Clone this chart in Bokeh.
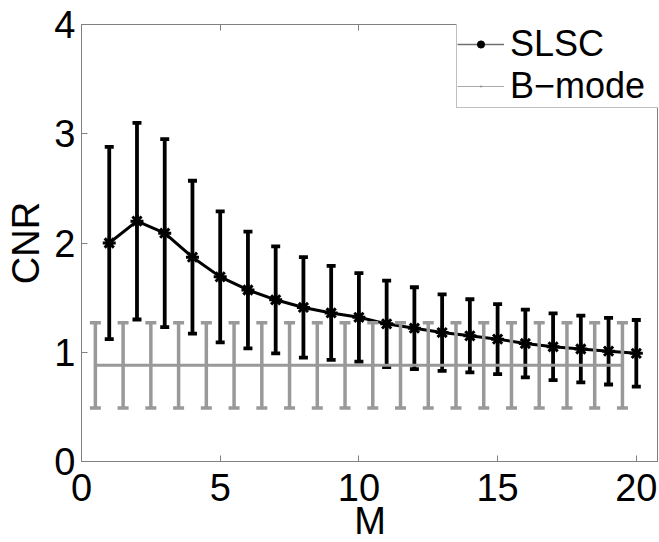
import math
from bokeh.plotting import figure
from bokeh.models import (ColumnDataSource, Range1d, LinearAxis, FixedTicker, Legend,
                          LegendItem, CustomJSTickFormatter)
from bokeh.embed import file_html
from bokeh.resources import INLINE

# ---- data ----
m_values = [1, 2, 3, 4, 5, 6, 7, 8, 9, 10, 11, 12, 13, 14, 15, 16, 17, 18, 19, 20]
slsc_mean = [2.00, 2.20, 2.09, 1.87, 1.69, 1.57, 1.48, 1.41, 1.36, 1.32,
             1.26, 1.22, 1.18, 1.15, 1.12, 1.08, 1.05, 1.03, 1.01, 0.99]
slsc_err = [0.88, 0.90, 0.86, 0.70, 0.60, 0.535, 0.49, 0.46, 0.43, 0.405,
            0.395, 0.375, 0.35, 0.335, 0.32, 0.31, 0.305, 0.305, 0.305, 0.305]

bmode_x = [0.5, 1.5, 2.5, 3.5, 4.5, 5.5, 6.5, 7.5, 8.5, 9.5,
           10.5, 11.5, 12.5, 13.5, 14.5, 15.5, 16.5, 17.5, 18.5, 19.5]
bmode_mean = [0.88, 0.88, 0.88, 0.88, 0.88, 0.88, 0.88, 0.88, 0.88, 0.88,
              0.88, 0.88, 0.88, 0.88, 0.88, 0.88, 0.88, 0.88, 0.88, 0.88]
bmode_err = [0.39, 0.39, 0.39, 0.39, 0.39, 0.39, 0.39, 0.39, 0.39, 0.39,
             0.39, 0.39, 0.39, 0.39, 0.39, 0.39, 0.39, 0.39, 0.39, 0.39]

x_ticks = [0, 5, 10, 15, 20]
y_ticks = [0, 1, 2, 3, 4]

FONT = "Liberation Sans"
FS = "38px"
LEGEND_FS = "36px"
AXIS_GRAY = "#808080"
BMODE_GRAY = "#999999"

slsc = ColumnDataSource(dict(
    x=m_values, y=slsc_mean,
    lo=[m - e for m, e in zip(slsc_mean, slsc_err)],
    hi=[m + e for m, e in zip(slsc_mean, slsc_err)],
))
bmode = ColumnDataSource(dict(
    x=bmode_x, y=bmode_mean,
    lo=[m - e for m, e in zip(bmode_mean, bmode_err)],
    hi=[m + e for m, e in zip(bmode_mean, bmode_err)],
))

p = figure(frame_width=577, frame_height=437,
           x_range=Range1d(0, 20.8), y_range=Range1d(0, 4),
           output_backend="svg", toolbar_location=None,
           min_border_left=81, min_border_top=24, min_border_right=0,
           min_border_bottom=10, background_fill_color="white",
           border_fill_color="white")
p.xgrid.visible = False
p.ygrid.visible = False
p.outline_line_color = AXIS_GRAY
p.outline_line_width = 1

# SLSC (drawn first, below B-mode)
p.segment(x0="x", y0="lo", x1="x", y1="hi", source=slsc, line_color="black", line_width=3.8)
p.scatter(x="x", y="hi", source=slsc, marker="dash", size=9, line_color="black", line_width=3.8)
p.scatter(x="x", y="lo", source=slsc, marker="dash", size=9, line_color="black", line_width=3.8)
p.line(x="x", y="y", source=slsc, line_color="black", line_width=3)
p.scatter(x="x", y="y", source=slsc, marker="asterisk", size=13, line_color="black", line_width=3)

# B-mode
p.segment(x0="x", y0="lo", x1="x", y1="hi", source=bmode, line_color=BMODE_GRAY, line_width=3.5)
p.scatter(x="x", y="hi", source=bmode, marker="dash", size=11, line_color=BMODE_GRAY, line_width=3.5)
p.scatter(x="x", y="lo", source=bmode, marker="dash", size=11, line_color=BMODE_GRAY, line_width=3.5)
p.line(x="x", y="y", source=bmode, line_color=BMODE_GRAY, line_width=3)

# legend proxies (not visible in the plot area)
nan = float("nan")
lg1 = p.line(x=[nan], y=[nan], line_color="#707070", line_width=1.5)
lg2 = p.scatter(x=[nan], y=[nan], marker="circle", size=7, fill_color="black", line_color="black")
lg3 = p.line(x=[nan], y=[nan], line_color="#aaaaaa", line_width=1)
lg4 = p.scatter(x=[nan], y=[nan], marker="dot", size=7, fill_color="#888888", line_color="#888888")

legend = Legend(items=[LegendItem(label="SLSC", renderers=[lg1, lg2]),
                       LegendItem(label="B\u2212mode", renderers=[lg3, lg4])],
                location=(375, 353), orientation="vertical",
                label_text_font=FONT, label_text_font_size=LEGEND_FS, label_text_color="black",
                glyph_width=47, glyph_height=18, label_standoff=6, label_width=149,
                padding=0, spacing=0, margin=0,
                border_line_color=AXIS_GRAY, border_line_width=1,
                background_fill_color="white", background_fill_alpha=1)
p.add_layout(legend)

# axes
for ax in (p.xaxis[0], p.yaxis[0]):
    ax.axis_line_color = AXIS_GRAY
    ax.major_tick_line_color = AXIS_GRAY
    ax.major_tick_in = 6
    ax.major_tick_out = 0
    ax.minor_tick_line_color = None
    ax.major_label_text_font = FONT
    ax.major_label_text_font_size = FS
    ax.major_label_text_color = "black"
    ax.axis_label_text_font = FONT
    ax.axis_label_text_font_size = FS
    ax.axis_label_text_font_style = "normal"
    ax.axis_label_text_color = "black"

p.xaxis[0].ticker = FixedTicker(ticks=x_ticks)
p.yaxis[0].ticker = FixedTicker(ticks=y_ticks)
p.xaxis[0].axis_label = "M"
p.yaxis[0].axis_label = "CNR"
p.xaxis[0].major_label_standoff = 12
p.xaxis[0].axis_label_standoff = -4
p.yaxis[0].major_label_standoff = 6
p.yaxis[0].axis_label_standoff = 4

top = LinearAxis(ticker=FixedTicker(ticks=x_ticks), axis_line_color=AXIS_GRAY,
                 major_tick_line_color=AXIS_GRAY, major_tick_in=6, major_tick_out=0,
                 minor_tick_line_color=None,
                 formatter=CustomJSTickFormatter(code="return ''"),
                 major_label_standoff=0)
p.add_layout(top, "above")

open("out.html", "w").write(file_html(p, INLINE))
